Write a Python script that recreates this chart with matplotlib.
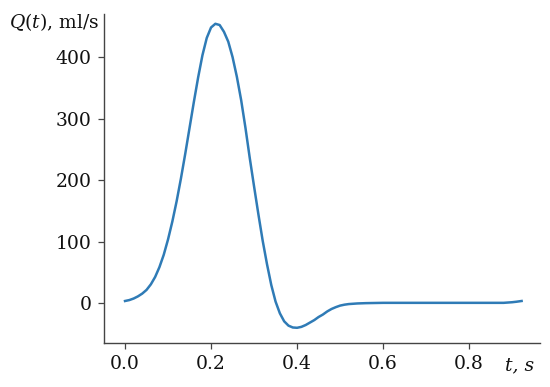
import matplotlib
matplotlib.use('Agg')
from matplotlib import pyplot as plt

# flow curve (t in s, Q in ml/s)
t_values = [0.00, 0.01, 0.02, 0.03, 0.04, 0.05, 0.06, 0.07, 0.08, 0.09,
            0.10, 0.11, 0.12, 0.13, 0.14, 0.15, 0.16, 0.17, 0.18, 0.19,
            0.20, 0.21, 0.22, 0.23, 0.24, 0.25, 0.26, 0.27, 0.28, 0.29,
            0.30, 0.31, 0.32, 0.33, 0.34, 0.35, 0.36, 0.37, 0.38, 0.39,
            0.40, 0.41, 0.42, 0.43, 0.44, 0.45, 0.46, 0.47, 0.48, 0.49,
            0.50, 0.51, 0.52, 0.54, 0.56, 0.60, 0.70, 0.80, 0.88, 0.90,
            0.91, 0.922]
q_values = [4, 5.5, 8, 11.5, 16, 22, 31, 43, 59, 79,
            104, 133, 166, 203, 243, 285, 327, 367, 403, 431,
            448, 454, 452, 441, 425, 400, 368, 330, 285, 236,
            190, 145, 102, 64, 30, 3, -16, -29, -36, -39,
            -39.5, -38, -35, -31, -27, -22, -18, -13, -9, -6,
            -3.5, -2, -1, 0, 0.5, 1, 1, 1, 1, 2,
            2.8, 4]

x_ticks = [0.0, 0.2, 0.4, 0.6, 0.8]
y_ticks = [0, 100, 200, 300, 400]

plt.rcParams['font.family'] = ['DejaVu Serif']
plt.rcParams['mathtext.fontset'] = 'custom'
plt.rcParams['mathtext.rm'] = 'DejaVu Serif'
plt.rcParams['mathtext.it'] = 'DejaVu Serif:italic'

fig = plt.figure(figsize=(5.5, 3.87), dpi=100)
ax = fig.add_axes([0.189, 0.114, 0.793, 0.850])

ax.plot(t_values, q_values, color='#2f7bb6', linewidth=1.8)

ax.set_xlim(-0.049, 0.965)
ax.set_ylim(-64, 470)
ax.set_xticks(x_ticks)
ax.set_xticklabels([f'{v:.1f}' for v in x_ticks])
ax.set_yticks(y_ticks)

for side in ['top', 'right']:
    ax.spines[side].set_visible(False)
for side in ['left', 'bottom']:
    ax.spines[side].set_color('#444444')
    ax.spines[side].set_linewidth(1.0)

ax.tick_params(axis='both', labelsize=13.5, length=4, width=0.9, color='#444444',
               labelcolor='#111111', pad=5)

ax.text(-0.01, 0.976, r'$\mathit{Q(t)}$, ml/s', transform=ax.transAxes,
        ha='right', va='center', fontsize=13.5, color='#111111')
ax.text(0.954, -0.067, 't, s', transform=ax.transAxes, style='italic',
        ha='center', va='center', fontsize=13.5, color='#111111')

fig.savefig('out.png', dpi=100)
plt.close(fig)
